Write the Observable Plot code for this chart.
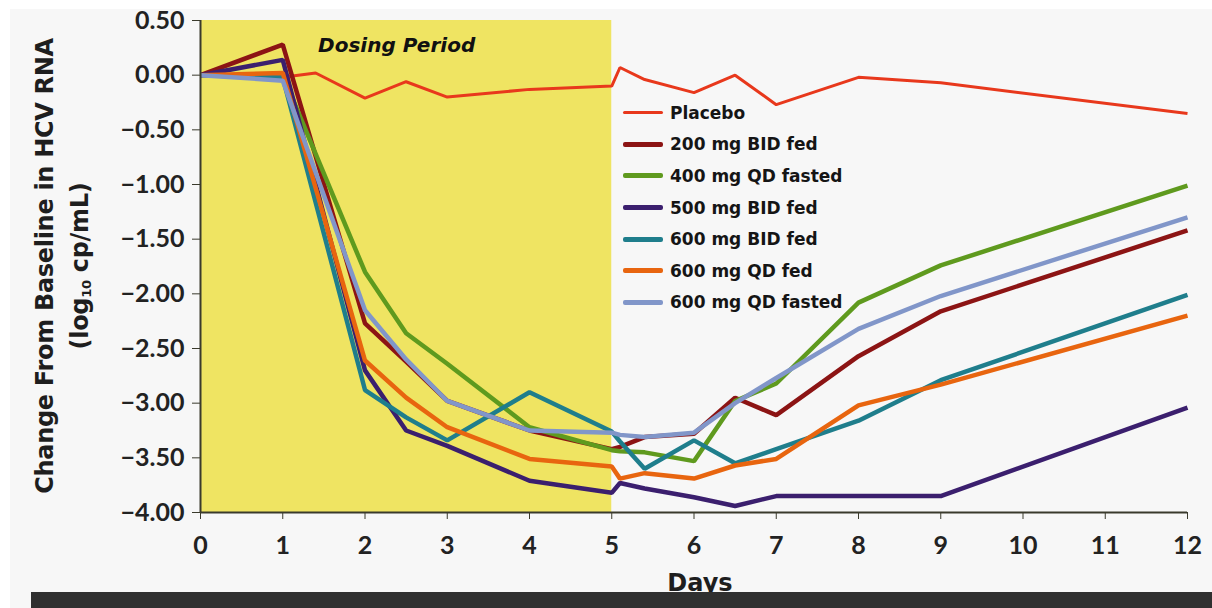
<!DOCTYPE html>
<html>
<head>
<meta charset="utf-8">
<script src="https://cdn.jsdelivr.net/npm/d3@7"></script>
<script src="https://cdn.jsdelivr.net/npm/@observablehq/plot@0.6"></script>
<style>
  html, body { margin: 0; padding: 0; background: #ffffff; width: 1212px; height: 608px; overflow: hidden; }
  #bg { position: absolute; left: 10px; top: 9px; width: 1202px; height: 599px; background: #f7f7f7; }
  #chart { position: absolute; left: 0; top: 0; }
  #ytitle { position: absolute; left: 63px; top: 266px; transform: translate(-50%, -50%) rotate(-90deg);
            font: bold 24px "DejaVu Sans", "Liberation Sans", Arial, sans-serif; color: #1e1e1e; text-align: center;
            line-height: 35px; white-space: nowrap; letter-spacing: -0.3px; }
  #ytitle sub { font-size: 13px; vertical-align: -3px; line-height: 0; }
  #xtitle { position: absolute; left: 700px; top: 569px; transform: translateX(-50%);
            font: bold 24px "DejaVu Sans", Arial, sans-serif; color: #1e1e1e; }
  #bar { position: absolute; left: 31px; top: 592px; width: 1181px; height: 16px; background: #303030; z-index: 5; }
  #legend { position: absolute; left: 623px; top: 97px; font: bold 17px "DejaVu Sans", Arial, sans-serif; color: #151515; }
  .row { display: flex; align-items: center; height: 31.6px; }
  .sw { width: 40px; margin-right: 7px; border-radius: 2px; }
</style>
</head>
<body>
<div id="bg"></div>
<div id="chart"></div>
<div id="ytitle">Change From Baseline in HCV RNA<br>(log<sub>10</sub> cp/mL)</div>
<div id="xtitle">Days</div>
<div id="legend"></div>
<div id="bar"></div>
<script>
// ---- data ----
const seriesNames = ["Placebo", "200 mg BID fed", "400 mg QD fasted", "500 mg BID fed", "600 mg BID fed", "600 mg QD fed", "600 mg QD fasted"];
const seriesColors = ["#e8381c", "#8c1414", "#5f9a1e", "#3b1f6e", "#1f7e8c", "#e8650f", "#8196c9"];

const placeboDays   = [0, 1, 1.4, 2, 2.5, 3, 4, 5, 5.1, 5.4, 6, 6.5, 7, 8, 9, 12];
const placeboValues = [0, -0.02, 0.02, -0.21, -0.06, -0.2, -0.13, -0.1, 0.07, -0.04, -0.16, 0.0, -0.27, -0.02, -0.07, -0.35];

const treatmentDays = [0, 1, 2, 2.5, 3, 4, 5, 5.1, 5.4, 6, 6.5, 7, 8, 9, 12];
const bid200fed    = [0, 0.28, -2.27, -2.62, -2.98, -3.25, -3.42, -3.40, -3.31, -3.28, -2.95, -3.11, -2.57, -2.16, -1.42];
const qd400fasted  = [0, 0.0, -1.80, -2.36, -2.64, -3.22, -3.43, -3.44, -3.45, -3.53, -2.98, -2.82, -2.08, -1.74, -1.01];
const bid500fed    = [0, 0.14, -2.70, -3.25, -3.39, -3.71, -3.82, -3.73, -3.78, -3.86, -3.94, -3.85, -3.85, -3.85, -3.04];
const bid600fed    = [0, -0.02, -2.88, -3.13, -3.34, -2.90, -3.26, -3.35, -3.60, -3.34, -3.55, -3.42, -3.16, -2.79, -2.01];
const qd600fed     = [0, 0.02, -2.61, -2.95, -3.22, -3.51, -3.58, -3.69, -3.64, -3.69, -3.57, -3.51, -3.02, -2.83, -2.20];
const qd600fasted  = [0, -0.05, -2.15, -2.60, -2.98, -3.25, -3.27, -3.29, -3.31, -3.27, -3.00, -2.77, -2.32, -2.02, -1.30];

const yTicks = [0.5, 0, -0.5, -1, -1.5, -2, -2.5, -3, -3.5, -4];
const xTicks = [0, 1, 2, 3, 4, 5, 6, 7, 8, 9, 10, 11, 12];
const dosingPeriod = [{start: 0, end: 5, low: -4, high: 0.5}];
const dosingLabel = [{day: 1.43, value: 0.275, text: "Dosing Period"}];

// ---- build table ----
const treatmentValues = [bid200fed, qd400fasted, bid500fed, bid600fed, qd600fed, qd600fasted];
const rows = [];
placeboDays.forEach((d, i) => rows.push({series: seriesNames[0], day: d, value: placeboValues[i]}));
treatmentValues.forEach((vals, k) => {
  treatmentDays.forEach((d, i) => rows.push({series: seriesNames[k + 1], day: d, value: vals[i]}));
});

const tickFont = "Lato, 'Liberation Sans', sans-serif";

const lineMarks = seriesNames.map((name, i) =>
  Plot.line(rows.filter(r => r.series === name), {
    x: "day", y: "value", stroke: seriesColors[i],
    strokeWidth: i === 0 ? 3 : 4.5, strokeLinejoin: "miter", strokeLinecap: "butt"
  })
);

const chart = Plot.plot({
  width: 1212,
  height: 592,
  marginLeft: 200,
  marginRight: 25,
  marginTop: 20,
  marginBottom: 80,
  style: {background: "transparent", color: "#222"},
  x: {domain: [0, 12]},
  y: {domain: [-4, 0.5]},
  marks: [
    Plot.rect(dosingPeriod, {x1: "start", x2: "end", y1: "low", y2: "high", fill: "#efe462"}),
    Plot.text(dosingLabel, {x: "day", y: "value", text: "text", textAnchor: "start",
      fontSize: 20, fontWeight: "bold", fontStyle: "italic", fontFamily: "'DejaVu Sans', Arial, sans-serif", fill: "#111"}),
    ...lineMarks,
    Plot.axisY({ticks: yTicks, tickFormat: d3.format(".2f"), tickSize: 8, tickPadding: 8,
      fontSize: 25, fontWeight: "bold", fontFamily: tickFont, label: null, stroke: "#3a3a2c"}),
    Plot.axisX({ticks: xTicks, tickFormat: d => String(d), tickSize: 7, tickPadding: 17,
      fontSize: 25, fontWeight: "bold", fontFamily: tickFont, label: null, stroke: "#3a3a2c"}),
    Plot.ruleX([0], {stroke: "#3a3a2c", strokeWidth: 2}),
    Plot.ruleY([-4], {stroke: "#3a3a2c", strokeWidth: 2})
  ]
});
document.getElementById("chart").appendChild(chart);

// ---- legend ----
const legend = document.getElementById("legend");
seriesNames.forEach((name, i) => {
  const row = document.createElement("div");
  row.className = "row";
  const sw = document.createElement("div");
  sw.className = "sw";
  sw.style.background = seriesColors[i];
  sw.style.height = (i === 0 ? 3 : 5) + "px";
  const label = document.createElement("span");
  label.textContent = name;
  row.appendChild(sw);
  row.appendChild(label);
  legend.appendChild(row);
});
</script>
</body>
</html>
